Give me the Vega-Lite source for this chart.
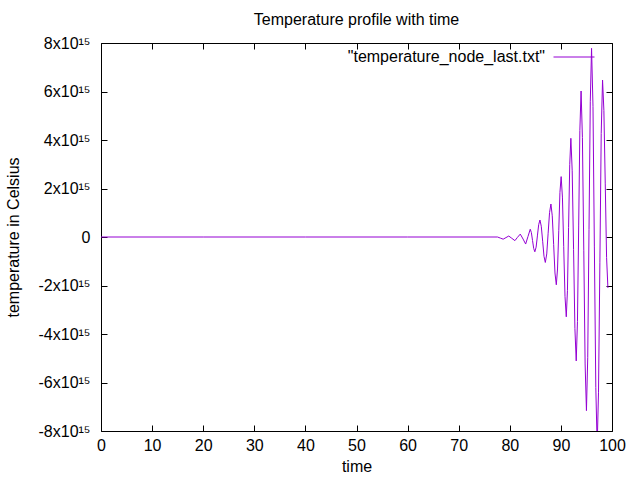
{
  "$schema": "https://vega.github.io/schema/vega-lite/v6.json",
  "autosize": {"type": "none"},
  "padding": {"left": 101, "top": 43, "right": 28, "bottom": 49},
  "width": 511,
  "height": 388,
  "background": "white",
  "config": {
    "font": "Liberation Sans",
    "view": {"stroke": "black", "strokeWidth": 1},
    "axis": {
      "grid": false,
      "domain": false,
      "tickColor": "black",
      "tickSize": -6,
      "labelFont": "Liberation Sans",
      "labelFontSize": 16,
      "labelColor": "black",
      "titleFont": "Liberation Sans",
      "titleFontSize": 16,
      "titleFontWeight": "normal",
      "titleColor": "black"
    }
  },
  "title": {
    "text": "Temperature profile with time",
    "fontSize": 16,
    "fontWeight": "normal",
    "color": "black",
    "baseline": "alphabetic",
    "frame": "group",
    "offset": -6
  },
  "data": {
    "values": [
      {"t": 0, "v": 0}, {"t": 20, "v": 0}, {"t": 40, "v": 0}, {"t": 60, "v": 0},
      {"t": 77.6, "v": 0}, {"t": 78.15, "v": -0.045e15}, {"t": 78.7, "v": -0.09e15},
      {"t": 79.25, "v": -0.025e15}, {"t": 79.8, "v": 0.04e15}, {"t": 80.4, "v": -0.055e15},
      {"t": 81.0, "v": -0.15e15}, {"t": 81.5, "v": -0.015e15}, {"t": 82.05, "v": 0.12e15},
      {"t": 82.6, "v": -0.085e15}, {"t": 83.1, "v": -0.29e15}, {"t": 83.55, "v": 0.015e15},
      {"t": 84.0, "v": 0.32e15}, {"t": 84.22, "v": 0.184e15}, {"t": 84.45, "v": -0.145e15},
      {"t": 84.68, "v": -0.474e15}, {"t": 84.9, "v": -0.61e15}, {"t": 85.15, "v": -0.419e15},
      {"t": 85.4, "v": 0.045e15}, {"t": 85.65, "v": 0.509e15}, {"t": 85.9, "v": 0.70e15},
      {"t": 86.16, "v": 0.444e15}, {"t": 86.43, "v": -0.175e15}, {"t": 86.69, "v": -0.795e15},
      {"t": 86.95, "v": -1.05e15}, {"t": 87.23, "v": -0.698e15}, {"t": 87.5, "v": 0.155e15},
      {"t": 87.78, "v": 1.008e15}, {"t": 88.05, "v": 1.36e15}, {"t": 88.31, "v": 0.874e15},
      {"t": 88.58, "v": -0.305e15}, {"t": 88.84, "v": -1.484e15}, {"t": 89.1, "v": -1.97e15},
      {"t": 89.34, "v": -1.319e15}, {"t": 89.58, "v": 0.26e15}, {"t": 89.81, "v": 1.839e15},
      {"t": 90.05, "v": 2.49e15}, {"t": 90.3, "v": 1.646e15}, {"t": 90.55, "v": -0.40e15},
      {"t": 90.8, "v": -2.446e15}, {"t": 91.05, "v": -3.29e15}, {"t": 91.28, "v": -2.215e15},
      {"t": 91.5, "v": 0.39e15}, {"t": 91.73, "v": 2.995e15}, {"t": 91.95, "v": 4.07e15},
      {"t": 92.21, "v": 2.73e15}, {"t": 92.48, "v": -0.52e15}, {"t": 92.74, "v": -3.77e15},
      {"t": 93.0, "v": -5.11e15}, {"t": 93.24, "v": -3.485e15}, {"t": 93.48, "v": 0.455e15},
      {"t": 93.71, "v": 4.395e15}, {"t": 93.95, "v": 6.02e15}, {"t": 94.21, "v": 4.096e15},
      {"t": 94.48, "v": -0.57e15}, {"t": 94.74, "v": -5.236e15}, {"t": 95.0, "v": -7.16e15},
      {"t": 95.25, "v": -4.979e15}, {"t": 95.5, "v": 0.31e15}, {"t": 95.75, "v": 5.599e15},
      {"t": 96.0, "v": 7.78e15}, {"t": 96.28, "v": 5.389e15}, {"t": 96.55, "v": -0.41e15},
      {"t": 96.83, "v": -6.209e15}, {"t": 97.1, "v": -8.6e15}, {"t": 97.36, "v": -6.4e15},
      {"t": 97.63, "v": -1.065e15}, {"t": 97.89, "v": 4.27e15}, {"t": 98.15, "v": 6.47e15},
      {"t": 98.41, "v": 5.22e15}, {"t": 98.68, "v": 2.19e15}, {"t": 98.94, "v": -0.85e15},
      {"t": 99.2, "v": -2.1e15}
    ]
  },
  "layer": [
    {
      "mark": {"type": "line", "strokeWidth": 1, "clip": true, "interpolate": "linear"},
      "encoding": {
        "x": {
          "field": "t", "type": "quantitative",
          "scale": {"domain": [0, 100], "nice": false, "zero": false},
          "axis": {"orient": "bottom", "values": [0, 10, 20, 30, 40, 50, 60, 70, 80, 90, 100],
                   "title": "time", "labelPadding": 12, "titlePadding": 5, "labelFlush": false}
        },
        "y": {
          "field": "v", "type": "quantitative",
          "scale": {"domain": [-8e15, 8e15], "nice": false},
          "axis": {"orient": "left",
                   "values": [-8e15, -6e15, -4e15, -2e15, 0, 2e15, 4e15, 6e15, 8e15],
                   "labelExpr": "datum.value == 0 ? '0' : (datum.value / 1e15) + 'x10¹⁵'",
                   "title": "temperature in Celsius", "labelPadding": 17, "titlePadding": 17,
                   "labelFlush": false}
        },
        "color": {
          "datum": "\"temperature_node_last.txt\"",
          "scale": {"range": ["#9400d3"]},
          "legend": {
            "title": null,
            "orient": "none",
            "legendX": 452,
            "legendY": -7,
            "symbolType": "stroke",
            "symbolSize": 1681,
            "symbolStrokeWidth": 1,
            "labelAlign": "right",
            "labelOffset": -50,
            "labelFont": "Liberation Sans",
            "labelFontSize": 16,
            "labelColor": "black",
            "labelLimit": 400
          }
        }
      }
    },
    {
      "mark": {"type": "line", "opacity": 0, "clip": true},
      "encoding": {
        "x": {
          "field": "t", "type": "quantitative",
          "axis": {"orient": "top", "values": [0, 10, 20, 30, 40, 50, 60, 70, 80, 90, 100],
                   "labels": false, "title": null, "minExtent": 0, "maxExtent": 0}
        },
        "y": {
          "field": "v", "type": "quantitative",
          "axis": {"orient": "right",
                   "values": [-8e15, -6e15, -4e15, -2e15, 0, 2e15, 4e15, 6e15, 8e15],
                   "labels": false, "title": null, "minExtent": 0, "maxExtent": 0}
        }
      }
    }
  ],
  "resolve": {"axis": {"x": "independent", "y": "independent"}}
}
